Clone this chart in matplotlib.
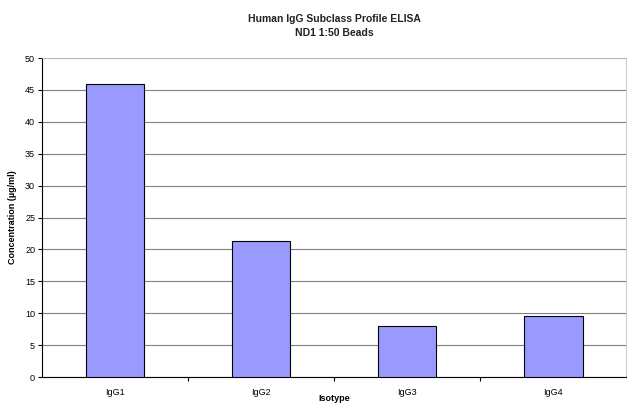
import numpy as np
import matplotlib
matplotlib.use('Agg')
import matplotlib.pyplot as plt

plt.rcParams['font.family'] = ['Liberation Sans', 'DejaVu Sans']

isotypes = ['IgG1', 'IgG2', 'IgG3', 'IgG4']
concentration = [46.0, 21.3, 8.0, 9.6]

fig = plt.figure(figsize=(6.27, 4.03), dpi=100)
ax = fig.add_axes([0.067, 0.0645, 0.932, 0.7915])

x = np.arange(len(isotypes))
ax.bar(x, concentration, width=0.4, color='#9999FF', edgecolor='black', linewidth=0.8, zorder=3)

ax.set_xlim(-0.5, len(isotypes) - 0.5)
ax.set_ylim(0, 50)
ax.set_yticks(np.arange(0, 51, 5))
ax.yaxis.grid(True, color='#808080', linewidth=0.8, zorder=0)

# category labels in the middle, tick marks between categories
ax.set_xticks(x)
ax.set_xticklabels(isotypes, fontsize=6.5)
ax.tick_params(axis='x', length=0, pad=8)
ax.set_xticks(np.arange(0.5, len(isotypes) - 0.5, 1), minor=True)
ax.tick_params(axis='x', which='minor', length=3, direction='out', width=0.8)
ax.tick_params(axis='y', labelsize=6.5, length=3, width=0.8, pad=2)

for s in ['top', 'right']:
    ax.spines[s].set_color('#c0c0c0')
    ax.spines[s].set_linewidth(0.6)
for s in ['left', 'bottom']:
    ax.spines[s].set_color('black')
    ax.spines[s].set_linewidth(0.8)

ax.set_ylabel('Concentration (µg/ml)', fontsize=6.5, fontweight='bold', labelpad=6)
ax.set_xlabel('Isotype', fontsize=6.5, fontweight='bold', labelpad=-2)
ax.set_title('Human IgG Subclass Profile ELISA\nND1 1:50 Beads', fontsize=7.5,
             fontweight='bold', color='#222222', pad=16, linespacing=1.5)

fig.savefig('out.png', dpi=100)
